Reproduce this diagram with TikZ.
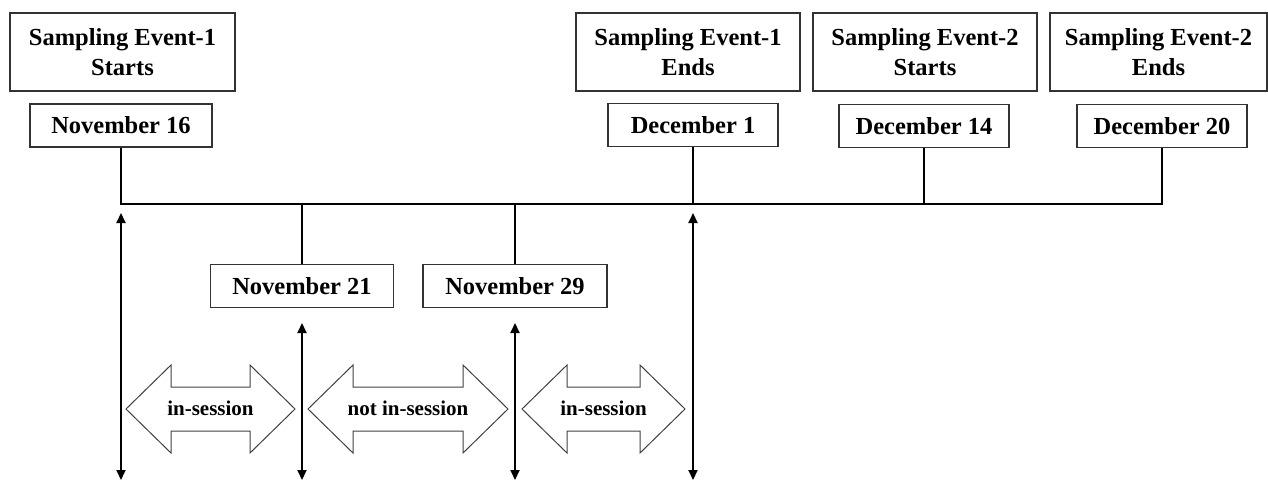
\documentclass[tikz,border=0pt]{standalone}
\usepackage{fontspec}
\setmainfont{Liberation Serif}
\usetikzlibrary{arrows.meta}

\begin{document}
\begin{tikzpicture}
[x=1pt,y=-1pt,
event/.style={draw=black!80,line width=1.2pt,align=center,minimum height=78pt,inner sep=0pt,font=\fontsize{24.5}{30}\selectfont\bfseries},
datebox/.style={draw=black!80,line width=1.2pt,minimum height=43pt,inner sep=0pt,font=\fontsize{24.5}{30}\selectfont\bfseries},
link/.style={line width=2.4pt},
period/.style={line width=2pt,{Triangle[width=9pt,length=10pt]}-{Triangle[width=9pt,length=10pt]}},
block/.style={draw=black!75,line width=1pt,line join=miter},
session/.style={font=\fontsize{21}{24}\selectfont\bfseries}]
\useasboundingbox (0,0) rectangle (1268,481);
\foreach \name/\x/\w/\txt in {s1/122.5/225/{Sampling Event-1\\Starts},e1/688/224/{Sampling Event-1\\Ends},s2/925/224/{Sampling Event-2\\Starts},e2/1158.5/217/{Sampling Event-2\\Ends}}
{
	\node[event,minimum width=\w pt] (\name) at (\x,52) {\txt};
}
\foreach \name/\x/\y/\w/\txt in {n16/121/125.5/182/November 16,d1/693/125/170/December 1,d14/924/126/170/December 14,d20/1162/126/170/December 20,n21/302/286/183/November 21,n29/515/286/184/November 29}
{
	\node[datebox,minimum width=\w pt] (\name) at (\x,\y) {\txt};
}
\coordinate (axis) at (0,204);
\coordinate (top) at (0,213);
\coordinate (mid) at (0,323);
\coordinate (bot) at (0,480);
\draw[link] (n16.south) -- (n16.south |- axis) -| (d20.south);
\foreach \n in {d1,d14}
	\draw[link] (\n.south) -- (\n.south |- axis);
\foreach \n in {n21,n29}
	\draw[link] (\n.north) -- (\n.north |- axis);
\draw[period] (n16.south |- top) -- (n16.south |- bot);
\draw[period] (d1.south |- top) -- (d1.south |- bot);
\draw[period] (n21.south |- mid) -- (n21.south |- bot);
\draw[period] (n29.south |- mid) -- (n29.south |- bot);
\foreach \name/\l/\r/\txt in {a1/126/295/in-session,a2/308/508/not in-session,a3/522/685/in-session}
{
	\draw[block] (\l,409) -- ({\l+45},365) -- ({\l+45},387) -- ({\r-45},387) -- ({\r-45},365) -- (\r,409)
		-- ({\r-45},453) -- ({\r-45},431) -- ({\l+45},431) -- ({\l+45},453) -- cycle;
	\node[session] (\name) at ({(\l+\r)/2},408) {\txt};
}
\end{tikzpicture}
\end{document}
